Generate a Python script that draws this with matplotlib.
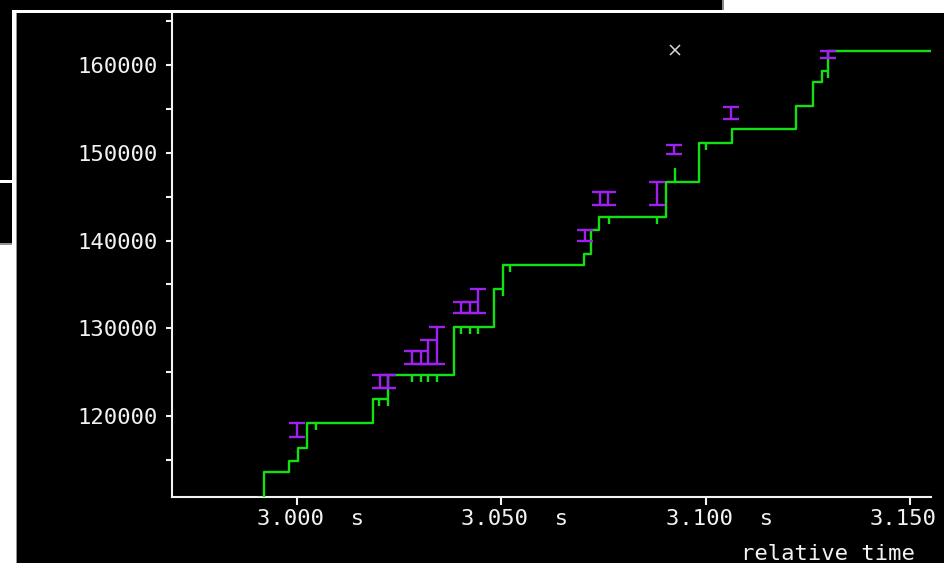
import matplotlib
matplotlib.use("Agg")
import matplotlib.pyplot as plt
from matplotlib.patches import Rectangle
from matplotlib.transforms import ScaledTranslation
import numpy as np

W, H, DPI = 944, 563, 100

# Cumulative ACK: time (s) at which the ACK advances and the sequence number it reaches
ack_times = [2.99046, 2.99193, 2.99804, 3.00024, 3.00245, 3.01860, 3.02227, 3.03841,
             3.04820, 3.05040, 3.07022, 3.07194, 3.07389, 3.09029, 3.09836, 3.10644,
             3.12210, 3.12626, 3.12846, 3.12993, 3.15500]
ack_seqs = [110700, 113620, 114870, 116350, 119200, 121940, 124670, 130140,
            134470, 137210, 138460, 141200, 142680, 146670, 151110, 152710,
            155330, 158060, 159320, 161600, 161600]

# Duplicate ACKs (drawn as short ticks hanging below the ACK line)
dupack_times = [3.00465, 3.02006, 3.02227, 3.02814, 3.03034, 3.03205, 3.03426,
                3.04013, 3.04233, 3.04429, 3.05040, 3.05212, 3.07634, 3.08808,
                3.10007, 3.12993]
dupack_seqs = [119200, 121940, 121940, 124670, 124670, 124670, 124670,
               130140, 130140, 130140, 134470, 137210, 142680, 142680,
               151110, 159320]

# Window update tick above the ACK line
winupd_times = [3.09249]
winupd_lo = [146670]
winupd_hi = [148260]

# Data segments sent: time, first and last sequence number
seg_times = [3.00012, 3.02031, 3.02227, 3.02814, 3.03034, 3.03205, 3.03426,
             3.04013, 3.04233, 3.04429, 3.07035, 3.07414, 3.07610, 3.08808,
             3.09224, 3.10619, 3.13005]
seg_start = [117610, 123190, 123190, 125930, 125930, 125930, 125930,
             131740, 131740, 131740, 139940, 144050, 144050, 144050,
             149860, 153850, 160800]
seg_end = [119200, 124670, 124670, 127410, 127410, 128660, 130140,
           132990, 132990, 134470, 141200, 145530, 145530, 146670,
           150880, 155210, 161600]

# Marker event
mark_time = [3.09249]
mark_seq = [161710]

# Axes
x_range = (2.96942, 3.15513)
y_range = (110770, 166040)
xtick_vals = [3.000, 3.050, 3.100, 3.150]
xtick_labels = ["3.000  s", "3.050  s", "3.100  s", "3.150"]
ytick_vals = [120000, 130000, 140000, 150000, 160000]
ytick_labels = ["120000", "130000", "140000", "150000", "160000"]
yminor_vals = [115000, 125000, 135000, 145000, 155000, 165000]

GREEN = "#12e012"
PURPLE = "#a020f0"
FG = "#f2f2f2"
FS = 16

plt.rcParams["font.family"] = ["DejaVu Sans Mono"]
plt.rcParams["font.size"] = FS

fig = plt.figure(figsize=(W / DPI, H / DPI), dpi=DPI, facecolor="black")


def px_box(x0, y0, x1, y1):
    return (x0 / W, 1 - y1 / H, (x1 - x0) / W, (y1 - y0) / H)


ax = fig.add_axes(px_box(172, 12, 931, 497))
ax.set_facecolor("black")
for side in ("top", "right"):
    ax.spines[side].set_visible(False)
for side in ("left", "bottom"):
    ax.spines[side].set_color(FG)
    ax.spines[side].set_linewidth(1.5)

lw = 1.7
ax.step(ack_times, ack_seqs, where="post", color=GREEN, lw=lw, zorder=3)
tick_depth = 800
ax.vlines(dupack_times, np.array(dupack_seqs) - tick_depth, dupack_seqs,
          color=GREEN, lw=lw, zorder=3)
ax.vlines(winupd_times, winupd_lo, winupd_hi, color=GREEN, lw=lw, zorder=3)

seg_lo = np.array(seg_start)
seg_len = np.array(seg_end) - seg_lo
ax.errorbar(seg_times, seg_lo, yerr=[np.zeros_like(seg_len), seg_len], fmt="none",
            ecolor=PURPLE, elinewidth=lw, capsize=5.6, capthick=lw, zorder=4)

ax.plot(mark_time, mark_seq, linestyle="none", marker="x", markersize=7,
        mew=1.1, color="#d8d8d8", zorder=5)

ax.set_xlim(*x_range)
ax.set_ylim(*y_range)

ax.set_yticks(ytick_vals, labels=ytick_labels)
ax.set_yticks(yminor_vals, minor=True)
ax.tick_params(axis="y", which="both", direction="out", length=4.3, width=1.5,
               colors=FG, pad=5.8, labelsize=FS)

ax.set_xticks(xtick_vals, labels=xtick_labels)
ax.tick_params(axis="x", which="both", direction="out", length=5.8, width=1.5,
               colors=FG, pad=3.0, labelsize=FS)
shift = ScaledTranslation(-40 / DPI, 0, fig.dpi_scale_trans)
for lab in ax.get_xticklabels():
    lab.set_horizontalalignment("left")
    lab.set_transform(lab.get_transform() + shift)

fig.text(915 / W, 3 / H, "relative time", ha="right", va="baseline",
         color=FG, fontsize=FS)


# Window manager chrome around the plot window
def chrome(x0, y0, x1, y1, color):
    l, b, w, h = px_box(x0, y0, x1, y1)
    fig.add_artist(Rectangle((l, b), w, h, transform=fig.transFigure,
                             facecolor=color, edgecolor="none", zorder=5))


chrome(724, 0, 944, 10, "white")
chrome(722, 0, 724, 10, "#8c8680")
chrome(13, 10, 944, 13, "white")
chrome(12, 10, 16, 563, "white")
chrome(16, 13, 17, 563, "#9a928a")
chrome(0, 180, 12, 182.5, "white")
chrome(0, 243, 12, 245, "#9a928a")
chrome(0, 245, 12, 563, "white")

fig.savefig("out.png", dpi=DPI, facecolor="black")
